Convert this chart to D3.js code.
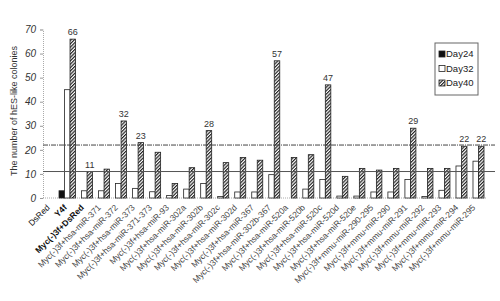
<!DOCTYPE html>
<html>
<head>
<meta charset="utf-8">
<script src="https://cdn.jsdelivr.net/npm/d3@7"></script>
<style>
body { margin: 0; background: #fff; }
svg { display: block; font-family: Arial, 'Liberation Sans', sans-serif; }
</style>
</head>
<body>
<div id="chart"></div>
<script>
var categories = ['DsRed', 'Y4f', 'Myc(-)3f+DsRed',
    'Myc(-)3f+hsa-miR-371', 'Myc(-)3f+hsa-miR-372', 'Myc(-)3f+hsa-miR-373', 'Myc(-)3f+hsa-miR-371-373',
    'Myc(-)3f+hsa-miR-93', 'Myc(-)3f+hsa-miR-302a', 'Myc(-)3f+hsa-miR-302b', 'Myc(-)3f+hsa-miR-302c',
    'Myc(-)3f+hsa-miR-302d', 'Myc(-)3f+hsa-miR-367', 'Myc(-)3f+hsa-miR-302b-367', 'Myc(-)3f+hsa-miR-520a',
    'Myc(-)3f+hsa-miR-520b', 'Myc(-)3f+hsa-miR-520c', 'Myc(-)3f+hsa-miR-520d', 'Myc(-)3f+hsa-miR-520e',
    'Myc(-)3f+mmu-miR-290-295', 'Myc(-)3f+mmu-miR-290', 'Myc(-)3f+mmu-miR-291', 'Myc(-)3f+mmu-miR-292',
    'Myc(-)3f+mmu-miR-293', 'Myc(-)3f+mmu-miR-294', 'Myc(-)3f+mmu-miR-295'];
var day24 = [0, 3, 0, 0, 0, 0, 0, 0, 0, 0, 0, 0, 0, 0, 0, 0, 0, 0, 0, 0, 0, 0, 0, 0, 0, 0];
var day32 = [0, 45, 3, 3, 6, 4, 2.6, 1, 3.7, 6, 0.6, 2.5, 2.5, 9.7, 0, 3.7, 7.7, 0.8, 0.8, 2.5, 2.5, 7.7, 0.6, 3.2, 13.3, 15.3];
var day40 = [0, 66, 11, 12, 32, 23, 19, 6, 12.6, 28, 14.7, 16.8, 15.7, 57, 16.8, 18, 47, 9, 12.3, 11.6, 12.3, 29, 12.3, 12.3, 21.5, 21.5];
var topLabels = ['', '66', '11', '', '32', '23', '', '', '', '28', '', '', '', '57', '', '', '47', '', '', '', '', '29', '', '', '22', '22'];
var seriesNames = ['Day24', 'Day32', 'Day40'];
var refLines = [22, 11];
var yTicks = [0, 10, 20, 30, 40, 50, 60, 70];

var width = 500, height = 301;

var svg = d3.select('#chart')
    .append('svg')
    .attr('width', width)
    .attr('height', height);

svg.append('rect').attr('width', width).attr('height', height).attr('fill', '#fff');

// hatch for Day40
var pat = svg.append('defs').append('pattern')
    .attr('id', 'hatch')
    .attr('patternUnits', 'userSpaceOnUse')
    .attr('width', 2.4).attr('height', 2.4)
    .attr('patternTransform', 'rotate(45)');
pat.append('rect').attr('width', 2.4).attr('height', 2.4).attr('fill', '#fff');
pat.append('line').attr('x1', 0.6).attr('y1', 0).attr('x2', 0.6).attr('y2', 2.4)
    .attr('stroke', '#222').attr('stroke-width', 1.2);

var fills = { Day24: '#111', Day32: '#fff', Day40: 'url(#hatch)' };

var x = d3.scaleBand()
    .domain(categories)
    .range([42, 484])
    .paddingInner(0.03)
    .paddingOuter(0);

var xSub = d3.scaleBand()
    .domain(seriesNames)
    .range([0, x.bandwidth()]);

var y = d3.scaleLinear()
    .domain([0, 70])
    .range([198, 29.5]);

// y axis
var yAxis = svg.append('g')
    .attr('transform', 'translate(43,0)')
    .call(d3.axisLeft(y).tickValues(yTicks).tickSize(3).tickPadding(4));
yAxis.select('.domain').attr('stroke', '#aaa').attr('stroke-dasharray', '1,1');
yAxis.selectAll('.tick line').attr('stroke', '#999');
yAxis.selectAll('text')
    .attr('font-size', '10px')
    .attr('font-style', 'italic')
    .attr('fill', '#333');

// baseline
svg.append('line')
    .attr('x1', 43).attr('x2', 486)
    .attr('y1', y(0)).attr('y2', y(0))
    .attr('stroke', '#aaa').attr('stroke-dasharray', '1,1');

svg.append('text')
    .attr('transform', 'translate(17,111) rotate(-90)')
    .attr('text-anchor', 'middle')
    .attr('font-size', '9px')
    .attr('fill', '#333')
    .text('The number of hES-like colonies');

// bars
var table = categories.map(function (c, i) {
    return { cat: c, Day24: day24[i], Day32: day32[i], Day40: day40[i], label: topLabels[i] };
});

var groups = svg.selectAll('.grp')
    .data(table)
    .enter().append('g')
    .attr('class', 'grp')
    .attr('transform', function (d) { return 'translate(' + x(d.cat) + ',0)'; });

groups.selectAll('rect')
    .data(function (d) {
        return seriesNames.map(function (s) { return { s: s, v: d[s] }; })
            .filter(function (e) { return e.v > 0; });
    })
    .enter().append('rect')
    .attr('x', function (e) { return xSub(e.s); })
    .attr('y', function (e) { return y(e.v); })
    .attr('width', xSub.bandwidth())
    .attr('height', function (e) { return y(0) - y(e.v); })
    .attr('fill', function (e) { return fills[e.s]; })
    .attr('stroke', '#222')
    .attr('stroke-width', 0.8);

// value labels on Day40 bars
groups.append('text')
    .attr('x', xSub('Day40') + xSub.bandwidth() / 2)
    .attr('y', function (d) { return y(d.Day40) - 4; })
    .attr('text-anchor', 'middle')
    .attr('font-family', "'Liberation Sans Narrow', 'Arial Narrow', sans-serif")
    .attr('font-size', '9px')
    .attr('fill', '#333')
    .text(function (d) { return d.label; });

// reference lines
svg.selectAll('.ref')
    .data(refLines)
    .enter().append('line')
    .attr('x1', 43).attr('x2', 495)
    .attr('y1', function (d) { return y(d); })
    .attr('y2', function (d) { return y(d); })
    .attr('stroke', function (d, i) { return i === 0 ? '#444' : '#555'; })
    .attr('stroke-width', 1)
    .attr('stroke-dasharray', function (d, i) { return i === 0 ? '5,1,1,1' : null; });

// category labels
svg.selectAll('.xlab')
    .data(categories)
    .enter().append('text')
    .attr('transform', function (d) {
        return 'translate(' + (x(d) + x.bandwidth() / 2 - 2) + ',206) rotate(-45)';
    })
    .attr('text-anchor', 'end')
    .attr('dy', '0.35em')
    .attr('font-size', '8.5px')
    .attr('font-weight', function (d, i) { return (i === 1 || i === 2) ? 'bold' : 'normal'; })
    .attr('fill', function (d, i) { return i < 3 ? '#111' : '#444'; })
    .text(function (d) { return d; });

// legend
var legend = svg.append('g').attr('transform', 'translate(435,43)');
legend.append('rect')
    .attr('width', 43).attr('height', 52)
    .attr('fill', '#fff').attr('stroke', '#666');
seriesNames.forEach(function (s, i) {
    legend.append('rect')
        .attr('x', 4).attr('y', 8 + i * 14.5)
        .attr('width', 6).attr('height', 6)
        .attr('fill', fills[s]).attr('stroke', '#222').attr('stroke-width', 0.8);
    legend.append('text')
        .attr('x', 11).attr('y', 11 + i * 14.5)
        .attr('dy', '0.35em')
        .attr('font-size', '9.5px')
        .attr('fill', '#222')
        .text(s);
});
</script>
</body>
</html>
